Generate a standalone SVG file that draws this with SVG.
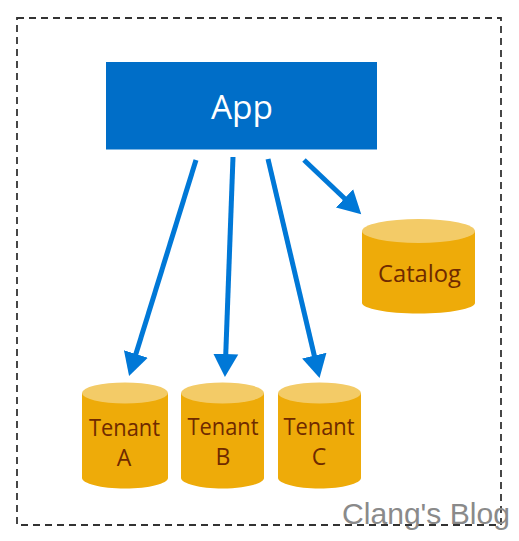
<svg xmlns="http://www.w3.org/2000/svg" width="519" height="541" viewBox="0 0 519 541">
<style>
.frame{fill:none;stroke:#333;stroke-width:1.8;stroke-dasharray:7 5}
.lbl{font-family:"Open Sans","Noto Sans",sans-serif;text-anchor:middle;fill:#6f2a00;font-size:23px}
.body{fill:#eeab09}
.top{fill:#f3cb67}
.arrow{fill:none;stroke:#0078d7;stroke-width:5;marker-end:url(#head)}
</style>
<defs>
<marker id="head" markerUnits="userSpaceOnUse" markerWidth="26" markerHeight="28" viewBox="0 -14 26 28" refX="7" refY="0" orient="auto">
<path d="M0,-12.500L23,0L0,12.500z" fill="#0078d7"/>
</marker>
</defs>
<rect width="519" height="541" fill="#fff"/>
<rect id="frame" class="frame" x="17" y="18" width="484" height="507"/>
<g id="app">
<rect x="106" y="62" width="271" height="87.500" fill="#006ec8"/>
<text x="242" y="119" font-family="'Open Sans','Noto Sans',sans-serif" font-size="33" fill="#fff" text-anchor="middle" textLength="62" lengthAdjust="spacingAndGlyphs">App</text>
</g>
<g id="connectors">
<line class="arrow" x1="196" y1="160" x2="133.800" y2="360.700"/>
<line class="arrow" x1="233" y1="157" x2="225.500" y2="361"/>
<line class="arrow" x1="268" y1="159" x2="315.900" y2="362.400"/>
<line class="arrow" x1="304" y1="160" x2="349.600" y2="203.200"/>
</g>
<g id="catalog">
<path class="body" d="M362,231V303C362,308.500 387,313.500 418.500,313.500S475,308.500 475,303V231z"/>
<ellipse class="top" cx="418.500" cy="231" rx="56.500" ry="12"/>
<text class="lbl" x="419.500" y="282" textLength="83" lengthAdjust="spacingAndGlyphs">Catalog</text>
</g>
<g id="tenant-a">
<path class="body" d="M82,393V478C82,483.500 101,488.500 125,488.500S168,483.500 168,478V393z"/>
<ellipse class="top" cx="125" cy="393" rx="43" ry="10.500"/>
<text class="lbl" x="124.500" y="436" textLength="71" lengthAdjust="spacingAndGlyphs">Tenant</text>
<text class="lbl" x="124" y="466">A</text>
</g>
<g id="tenant-b">
<path class="body" d="M181,393V478C181,483.500 200,488.500 222.500,488.500S264,483.500 264,478V393z"/>
<ellipse class="top" cx="222.500" cy="393" rx="41.500" ry="10.500"/>
<text class="lbl" x="223" y="435" textLength="71" lengthAdjust="spacingAndGlyphs">Tenant</text>
<text class="lbl" x="223" y="465">B</text>
</g>
<g id="tenant-c">
<path class="body" d="M278,393V478C278,483.500 297,488.500 319.500,488.500S361,483.500 361,478V393z"/>
<ellipse class="top" cx="319.500" cy="393" rx="41.500" ry="10.500"/>
<text class="lbl" x="319" y="435" textLength="71" lengthAdjust="spacingAndGlyphs">Tenant</text>
<text class="lbl" x="319" y="465">C</text>
</g>
<text id="watermark" x="342" y="524" font-family="'Liberation Sans',sans-serif" font-size="30" fill="#8a8a8a" textLength="168" lengthAdjust="spacingAndGlyphs">Clang's Blog</text>
</svg>
